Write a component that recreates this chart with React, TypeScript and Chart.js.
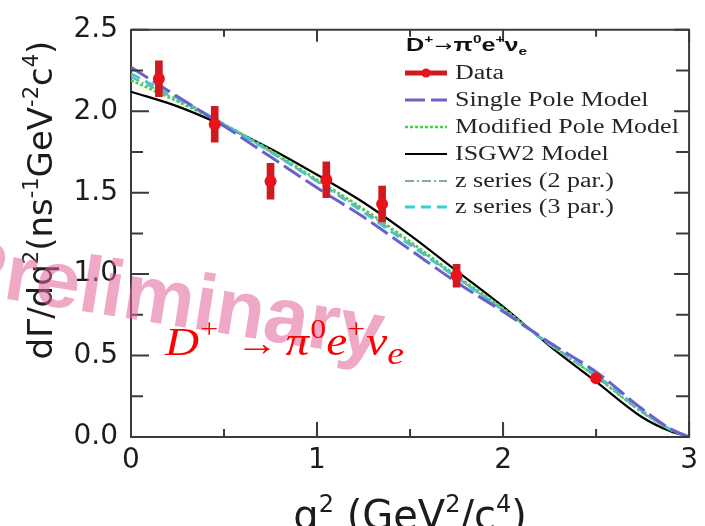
import { useEffect, useRef } from "react";
import { Chart, registerables } from "chart.js";

Chart.register(...registerables);

// q^2 grid (GeV^2/c^4) on which the model curves are tabulated
const q2Grid = [0, 0.25, 0.5, 0.75, 1.0, 1.25, 1.5, 1.75, 2.0, 2.25, 2.5, 2.75, 2.9, 3.0];

// Differential decay rate dΓ/dq² (ns⁻¹ GeV⁻² c⁴) for each form-factor model
const singlePole = [2.27, 2.09, 1.91, 1.72, 1.53, 1.35, 1.15, 0.95, 0.77, 0.58, 0.40, 0.17, 0.05, 0];
const modifiedPole = [2.19, 2.06, 1.92, 1.76, 1.58, 1.40, 1.20, 0.99, 0.79, 0.57, 0.37, 0.15, 0.045, 0];
const isgw2 = [2.12, 2.03, 1.91, 1.77, 1.61, 1.44, 1.24, 1.02, 0.80, 0.56, 0.34, 0.12, 0.035, 0];
const zSeries2 = [2.21, 2.07, 1.92, 1.75, 1.57, 1.39, 1.19, 0.98, 0.78, 0.57, 0.37, 0.15, 0.045, 0];
const zSeries3 = [2.23, 2.08, 1.92, 1.75, 1.57, 1.38, 1.18, 0.98, 0.78, 0.57, 0.38, 0.16, 0.045, 0];

// Measured points with their errors
const dataQ2 = [0.15, 0.45, 0.75, 1.05, 1.35, 1.75, 2.5];
const dataRate = [2.2, 1.92, 1.57, 1.58, 1.43, 0.99, 0.36];
const dataErr = [0.11, 0.11, 0.11, 0.11, 0.11, 0.07, 0.02];

// Axis ranges and tick steps
const xRange = [0, 3];
const yRange = [0, 2.5];
const xMajorStep = 1;
const xMinorStep = 0.5;
const yMajorStep = 0.5;
const yMinorStep = 0.25;

const legendLabels = [
  "Data",
  "Single Pole Model",
  "Modified Pole Model",
  "ISGW2 Model",
  "z series (2 par.)",
  "z series (3 par.)",
];

const AXIS = "#3a3a3a";
const TEXT = "#1c1c1c";
const SANS = "'DejaVu Sans'";
const SERIF = "'Liberation Serif'";
const LS = "'Liberation Sans'";

type Seg = { t: string; font: string; dy?: number; gap?: number };

function segsWidth(ctx: CanvasRenderingContext2D, segs: Seg[]) {
  let w = 0;
  for (const s of segs) {
    ctx.font = s.font;
    w += (s.gap || 0) + ctx.measureText(s.t).width;
  }
  return w;
}

function drawSegs(ctx: CanvasRenderingContext2D, segs: Seg[], x: number, y: number) {
  let cx = x;
  for (const s of segs) {
    ctx.font = s.font;
    cx += s.gap || 0;
    ctx.fillText(s.t, cx, y + (s.dy || 0));
    cx += ctx.measureText(s.t).width;
  }
}

const curve = (vals: number[]) => q2Grid.map((x, i) => ({ x, y: vals[i] }));

const decorations = {
  id: "decorations",
  afterDraw(chart: any) {
    const ctx: CanvasRenderingContext2D = chart.ctx;
    const xs = chart.scales.x;
    const ys = chart.scales.y;
    const a = chart.chartArea;
    const eps = 1e-6;

    ctx.save();
    // closing frame on top and right
    ctx.strokeStyle = AXIS;
    ctx.lineWidth = 2;
    ctx.beginPath();
    ctx.moveTo(a.left, a.top);
    ctx.lineTo(a.right, a.top);
    ctx.lineTo(a.right, a.bottom);
    ctx.stroke();

    // inward tick marks on all four sides
    ctx.beginPath();
    for (let v = xRange[0]; v <= xRange[1] + eps; v += xMinorStep) {
      const major = Math.abs(v / xMajorStep - Math.round(v / xMajorStep)) < eps;
      const px = xs.getPixelForValue(v);
      ctx.moveTo(px, a.bottom);
      ctx.lineTo(px, a.bottom - (major ? 15 : 8));
      ctx.moveTo(px, a.top);
      ctx.lineTo(px, a.top + (major ? 12 : 7));
    }
    for (let v = yRange[0]; v <= yRange[1] + eps; v += yMinorStep) {
      const major = Math.abs(v / yMajorStep - Math.round(v / yMajorStep)) < eps;
      const py = ys.getPixelForValue(v);
      ctx.moveTo(a.left, py);
      ctx.lineTo(a.left + (major ? 18 : 12), py);
      ctx.moveTo(a.right, py);
      ctx.lineTo(a.right - (major ? 15 : 13), py);
    }
    ctx.stroke();

    // axis titles
    ctx.fillStyle = TEXT;
    ctx.textBaseline = "alphabetic";
    ctx.textAlign = "left";
    const yTitle: Seg[] = [
      { t: "dΓ/dq", font: `34px ${SANS}` },
      { t: "2", font: `21px ${SANS}`, dy: -14 },
      { t: "(ns", font: `34px ${SANS}` },
      { t: "-1", font: `21px ${SANS}`, dy: -14 },
      { t: "GeV", font: `34px ${SANS}` },
      { t: "-2", font: `21px ${SANS}`, dy: -14 },
      { t: "c", font: `34px ${SANS}` },
      { t: "4", font: `21px ${SANS}`, dy: -14 },
      { t: ")", font: `34px ${SANS}` },
    ];
    ctx.save();
    ctx.translate(52, 200);
    ctx.rotate(-Math.PI / 2);
    drawSegs(ctx, yTitle, -segsWidth(ctx, yTitle) / 2, 0);
    ctx.restore();

    const xTitle: Seg[] = [
      { t: "q", font: `40px ${SANS}` },
      { t: "2", font: `24px ${SANS}`, dy: -17 },
      { t: " (GeV", font: `40px ${SANS}` },
      { t: "2", font: `24px ${SANS}`, dy: -17 },
      { t: "/c", font: `40px ${SANS}` },
      { t: "4", font: `24px ${SANS}`, dy: -17 },
      { t: ")", font: `40px ${SANS}` },
    ];
    drawSegs(ctx, xTitle, (a.left + a.right) / 2 - segsWidth(ctx, xTitle) / 2, 529);

    // legend title
    ctx.save();
    ctx.fillStyle = "#111111";
    ctx.translate(406, 51);
    ctx.scale(1.4, 1);
    const titleSegs: Seg[] = [
      { t: "D", font: `bold 18px ${LS}` },
      { t: "+", font: `bold 11px ${LS}`, dy: -8 },
      { t: "→", font: `15px ${SANS}`, gap: 1 },
      { t: "π", font: `bold 18px ${LS}`, gap: 1 },
      { t: "0", font: `bold 11px ${LS}`, dy: -8 },
      { t: "e", font: `bold 18px ${LS}` },
      { t: "+", font: `bold 11px ${LS}`, dy: -8 },
      { t: "ν", font: `bold 18px ${LS}` },
      { t: "e", font: `bold 11px ${LS}`, dy: 4 },
    ];
    drawSegs(ctx, titleSegs, 0, 0);
    ctx.restore();

    // legend rows
    const rows = [79, 106, 133, 160, 187, 213];
    const ds = chart.data.datasets;
    // datasets: 0 points, 1 error bars, 2.. curves in legend order
    for (let i = 0; i < legendLabels.length; i++) {
      const ly = rows[i] - 6;
      ctx.save();
      if (i === 0) {
        ctx.strokeStyle = ds[1].backgroundColor;
        ctx.lineWidth = 5;
        ctx.setLineDash([]);
        ctx.beginPath();
        ctx.moveTo(405, ly);
        ctx.lineTo(447, ly);
        ctx.stroke();
        ctx.fillStyle = ds[0].pointBackgroundColor;
        ctx.beginPath();
        ctx.arc(426, ly, 4.5, 0, Math.PI * 2);
        ctx.fill();
      } else {
        const d = ds[i + 1];
        ctx.strokeStyle = d.borderColor;
        ctx.lineWidth = d.borderWidth;
        ctx.setLineDash(d.borderDash || []);
        ctx.beginPath();
        ctx.moveTo(405, ly);
        ctx.lineTo(447, ly);
        ctx.stroke();
      }
      ctx.restore();
      ctx.save();
      ctx.fillStyle = "#262626";
      ctx.font = `20px ${SERIF}`;
      ctx.translate(455, rows[i]);
      ctx.scale(1.3, 1);
      ctx.fillText(legendLabels[i], 0, 0);
      ctx.restore();
    }

    // "Preliminary" stamp
    ctx.save();
    ctx.translate(-51, 290);
    ctx.rotate((9 * Math.PI) / 180);
    ctx.font = `bold 80px ${LS}`;
    ctx.fillStyle = "rgba(226, 96, 150, 0.55)";
    ctx.fillText("Preliminary", 0, 0);
    ctx.restore();

    // decay channel label
    ctx.save();
    ctx.fillStyle = "#ff0000";
    ctx.translate(165, 355);
    ctx.scale(1.18, 1);
    const it = (px: number) => `italic ${px}px ${SERIF}`;
    const up = (px: number) => `${px}px ${SERIF}`;
    const chan: Seg[] = [
      { t: "D", font: it(40) },
      { t: "+", font: up(27), dy: -17, gap: 1 },
      { t: "→", font: up(36), gap: 15 },
      { t: "π", font: it(40), gap: 6 },
      { t: "0", font: up(27), dy: -17, gap: 1 },
      { t: "e", font: it(40), gap: 0 },
      { t: "+", font: up(27), dy: -17 },
      { t: "ν", font: it(40), gap: 1 },
      { t: "e", font: it(32), dy: 9 },
    ];
    drawSegs(ctx, chan, 0, 0);
    ctx.restore();

    ctx.restore();
  },
};

export default function App() {
  const ref = useRef<HTMLCanvasElement | null>(null);

  useEffect(() => {
    document.body.style.margin = "0";
    const canvas = ref.current;
    if (!canvas) return;

    const lineDs = (vals: number[], color: string, width: number, dash: number[], order: number) => ({
      type: "line" as const,
      data: curve(vals),
      borderColor: color,
      borderWidth: width,
      borderDash: dash,
      pointRadius: 0,
      fill: false,
      cubicInterpolationMode: "monotone" as const,
      order,
    });

    const chart = new Chart(canvas, {
      type: "line",
      data: {
        datasets: [
          {
            type: "line",
            data: dataQ2.map((x, i) => ({ x, y: dataRate[i] })),
            showLine: false,
            pointRadius: 6,
            pointBackgroundColor: "#e8131b",
            pointBorderWidth: 0,
            borderColor: "#e8131b",
            order: 0,
          },
          {
            type: "bar",
            data: dataQ2.map((x, i) => ({ x, y: [dataRate[i] - dataErr[i], dataRate[i] + dataErr[i]] })),
            backgroundColor: "#cf1a20",
            borderWidth: 0,
            barThickness: 7,
            grouped: false,
            order: 1,
          } as any,
          lineDs(singlePole, "#6a62c9", 3, [20, 6], 2),
          lineDs(modifiedPole, "#3ad83e", 2.5, [3, 2], 4),
          lineDs(isgw2, "#000000", 2.2, [], 5),
          lineDs(zSeries2, "#82a9a5", 2, [9, 3, 2, 3], 3),
          lineDs(zSeries3, "#35d0d6", 3, [10, 6], 3),
        ],
      },
      options: {
        responsive: false,
        animation: false,
        devicePixelRatio: 1,
        layout: { padding: { left: 0, right: 11, top: 21, bottom: 0 } },
        plugins: { legend: { display: false }, tooltip: { enabled: false } },
        scales: {
          x: {
            type: "linear",
            min: xRange[0],
            max: xRange[1],
            offset: false,
            grid: { display: false, drawTicks: false, offset: false },
            border: { display: true, color: AXIS, width: 2 },
            ticks: {
              stepSize: xMajorStep,
              padding: 7,
              maxRotation: 0,
              color: TEXT,
              font: { family: SANS, size: 28 },
              callback: (v: any) => String(v),
            },
            afterFit: (s: any) => {
              s.height = 89;
            },
          },
          y: {
            type: "linear",
            min: yRange[0],
            max: yRange[1],
            beginAtZero: true,
            grid: { display: false, drawTicks: false },
            border: { display: true, color: AXIS, width: 2 },
            ticks: {
              stepSize: yMajorStep,
              padding: 13,
              color: TEXT,
              font: { family: SANS, size: 28 },
              callback: (v: any) => Number(v).toFixed(1),
            },
            afterFit: (s: any) => {
              s.width = 131;
            },
          },
        },
      } as any,
      plugins: [decorations],
    });

    return () => chart.destroy();
  }, []);

  return (
    <div style={{ width: 705, height: 526, background: "#ffffff" }}>
      <canvas ref={ref} width={705} height={526} style={{ display: "block" }} />
    </div>
  );
}
